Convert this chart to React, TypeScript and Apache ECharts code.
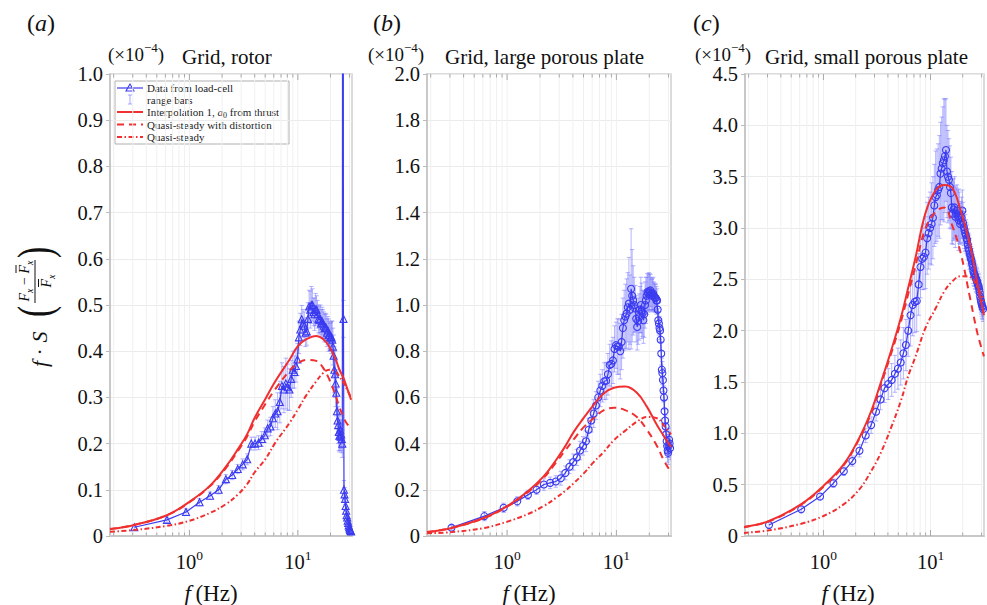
import React, { useEffect, useRef } from 'react';
import * as echarts from 'echarts';

const FONT = 'Liberation Serif, serif';
const BLUE = '#3b3bf0';
const BAR = 'rgba(110,110,255,0.5)';
const RED = '#f03030';

// Frequencies of the measured spectra (Hz)
const freqs = [
  0.31, 0.62, 0.93, 1.24, 1.55, 1.86, 2.17, 2.48, 2.79, 3.1,
  3.41, 3.72, 4.03, 4.34, 4.65, 4.96, 5.27, 5.58, 5.89, 6.2,
  6.51, 6.82, 7.13, 7.44, 7.75, 8.06, 8.37, 8.68, 8.99, 9.3,
  9.61, 9.92, 10.23, 10.54, 10.85, 11.16, 11.47, 11.78, 12.09, 12.4,
  12.71, 13.02, 13.33, 13.64, 13.95, 14.26, 14.57, 14.88, 15.19, 15.5,
  15.81, 16.12, 16.43, 16.74, 17.05, 17.36, 17.67, 17.98, 18.29, 18.6,
  18.91, 19.22, 19.53, 19.84, 20.15, 20.46, 20.77, 21.08, 21.39, 21.7,
  22.01, 22.32, 22.63, 22.94, 23.25, 23.56, 23.87, 24.18, 24.49, 24.8,
  25.11, 25.42, 25.73, 26.04, 26.35, 26.66, 26.97, 27.28, 27.59, 27.9,
  28.21, 28.52, 28.83, 29.14, 29.45, 29.76, 30.07, 30.38, 30.69, 31.0,
];

// (a) Grid, rotor
const dataA = [
  0.019, 0.035, 0.052, 0.073, 0.087, 0.1, 0.123, 0.132, 0.145, 0.155,
  0.166, 0.2, 0.2, 0.202, 0.21, 0.218, 0.233, 0.237, 0.255, 0.265,
  0.27, 0.29, 0.325, 0.317, 0.33, 0.322, 0.317, 0.34, 0.36, 0.355,
  0.368, 0.382, 0.43, 0.447, 0.469, 0.46, 0.455, 0.44, 0.443, 0.47,
  0.497, 0.49, 0.5, 0.5, 0.485, 0.48, 0.49, 0.49, 0.48, 0.47,
  0.467, 0.47, 0.46, 0.465, 0.46, 0.455, 0.45, 0.452, 0.45, 0.44,
  0.445, 0.435, 0.435, 0.43, 0.432, 0.43, 0.425, 0.41, 0.39, 0.36,
  0.35, 0.33, 0.31, 0.27, 0.25, 0.24, 0.225, 0.217, 0.23, 0.215,
  0.22, 0.21, 0.2, 3.0, 0.47, 0.1, 0.09, 0.08, 0.065, 0.055,
  0.045, 0.04, 0.033, 0.028, 0.023, 0.019, 0.016, 0.013, 0.011, 0.01,
];
const errA = [
  0.006, 0.006, 0.007, 0.008, 0.008, 0.009, 0.01, 0.01, 0.01, 0.012,
  0.012, 0.014, 0.014, 0.015, 0.016, 0.016, 0.018, 0.02, 0.025, 0.03,
  0.04, 0.045, 0.05, 0.05, 0.055, 0.05, 0.045, 0.04, 0.04, 0.035,
  0.035, 0.035, 0.035, 0.035, 0.03, 0.03, 0.03, 0.03, 0.03, 0.035,
  0.035, 0.04, 0.04, 0.035, 0.03, 0.035, 0.035, 0.03, 0.03, 0.03,
  0.03, 0.03, 0.03, 0.03, 0.03, 0.03, 0.03, 0.03, 0.03, 0.03,
  0.03, 0.035, 0.03, 0.03, 0.03, 0.035, 0.04, 0.04, 0.045, 0.05,
  0.05, 0.05, 0.05, 0.05, 0.04, 0.04, 0.04, 0.035, 0.03, 0.03,
  0.03, 0.03, 0.03, 0.1, 0.04, 0.02, 0.015, 0.012, 0.01, 0.01,
  0.008, 0.008, 0.006, 0.006, 0.005, 0.005, 0.005, 0.004, 0.004, 0.004,
];
const modelFreqA = [0.185, 0.31, 0.62, 1, 1.55, 2.17, 2.8, 3.4, 4, 5, 6.2, 8.4, 10, 12, 14.8, 17, 19.5, 22.6, 24, 26.7, 28, 31];
const interpA = [0.015, 0.024, 0.045, 0.074, 0.109, 0.15, 0.188, 0.22, 0.256, 0.296, 0.335, 0.382, 0.411, 0.426, 0.433, 0.427, 0.41, 0.379, 0.362, 0.339, 0.325, 0.295];
const distA = [0.015, 0.024, 0.045, 0.073, 0.108, 0.147, 0.184, 0.215, 0.248, 0.285, 0.318, 0.358, 0.374, 0.381, 0.379, 0.365, 0.339, 0.3, 0.28, 0.255, 0.245, 0.232];
const qsA = [0.009, 0.013, 0.022, 0.033, 0.05, 0.069, 0.09, 0.112, 0.138, 0.166, 0.202, 0.245, 0.274, 0.305, 0.335, 0.352, 0.36, 0.355, 0.346, 0.33, 0.32, 0.3];

// (b) Grid, large porous plate
const dataB = [
  0.036, 0.086, 0.122, 0.15, 0.178, 0.2, 0.223, 0.23, 0.236, 0.25,
  0.273, 0.3, 0.32, 0.34, 0.37, 0.39, 0.41, 0.46, 0.5, 0.53,
  0.565, 0.6, 0.63, 0.65, 0.67, 0.672, 0.7, 0.74, 0.745, 0.76,
  0.81, 0.826, 0.82, 0.82, 0.8, 0.84, 0.9, 0.934, 0.95, 0.963,
  0.99, 1.006, 0.98, 1.07, 1.04, 1.02, 1.0, 0.985, 0.94, 0.905,
  0.93, 0.948, 0.98, 1.0, 0.975, 0.964, 0.934, 0.96, 1.0, 1.02,
  1.04, 1.056, 1.05, 1.06, 1.055, 1.063, 1.05, 1.04, 1.045, 1.05,
  1.04, 1.035, 1.03, 1.03, 1.02, 1.02, 0.98, 0.934, 0.92, 0.9,
  0.89, 0.85, 0.79, 0.72, 0.705, 0.675, 0.63, 0.6, 0.54, 0.5,
  0.474, 0.44, 0.41, 0.39, 0.37, 0.36, 0.39, 0.417, 0.4, 0.38,
];
const errB = [
  0.01, 0.02, 0.02, 0.02, 0.02, 0.02, 0.025, 0.025, 0.025, 0.03,
  0.03, 0.03, 0.035, 0.035, 0.04, 0.04, 0.045, 0.05, 0.05, 0.06,
  0.06, 0.07, 0.07, 0.07, 0.08, 0.08, 0.09, 0.09, 0.1, 0.1,
  0.1, 0.1, 0.12, 0.12, 0.12, 0.12, 0.13, 0.13, 0.14, 0.15,
  0.15, 0.2, 0.15, 0.26, 0.2, 0.15, 0.12, 0.1, 0.1, 0.1,
  0.1, 0.1, 0.1, 0.12, 0.12, 0.1, 0.1, 0.1, 0.1, 0.1,
  0.08, 0.08, 0.08, 0.08, 0.08, 0.07, 0.07, 0.07, 0.07, 0.07,
  0.06, 0.06, 0.06, 0.06, 0.06, 0.05, 0.05, 0.05, 0.05, 0.05,
  0.05, 0.05, 0.05, 0.05, 0.05, 0.05, 0.05, 0.05, 0.05, 0.05,
  0.05, 0.05, 0.05, 0.05, 0.05, 0.05, 0.05, 0.05, 0.05, 0.05,
];
const modelFreqB = [0.185, 0.31, 0.62, 1, 1.55, 2.17, 2.8, 3.4, 4.1, 5, 6.2, 7.7, 9.5, 12, 15.4, 19, 23.5, 27, 31.6];
const interpB = [0.017, 0.035, 0.079, 0.129, 0.194, 0.259, 0.328, 0.388, 0.453, 0.51, 0.568, 0.618, 0.642, 0.647, 0.62, 0.56, 0.48, 0.435, 0.385];
const distB = [0.017, 0.035, 0.078, 0.127, 0.19, 0.252, 0.318, 0.37, 0.42, 0.47, 0.51, 0.545, 0.555, 0.545, 0.515, 0.46, 0.39, 0.33, 0.275];
const qsB = [0.012, 0.017, 0.035, 0.062, 0.095, 0.13, 0.165, 0.195, 0.23, 0.27, 0.32, 0.365, 0.415, 0.455, 0.495, 0.515, 0.51, 0.48, 0.44];

// (c) Grid, small porous plate
const dataC = [
  0.107, 0.26, 0.384, 0.514, 0.63, 0.73, 0.83, 0.98, 1.08, 1.21,
  1.33, 1.44, 1.48, 1.52, 1.58, 1.63, 1.69, 1.78, 1.86, 2.0,
  2.15, 2.25, 2.28, 2.29, 2.45, 2.62, 2.7, 2.72, 2.76, 2.9,
  2.95, 3.0, 3.04, 3.1, 3.22, 3.3, 3.32, 3.37, 3.4, 3.53,
  3.58, 3.63, 3.66, 3.7, 3.76, 3.55, 3.5, 3.47, 3.4, 3.34,
  3.2, 3.14, 3.18, 3.2, 3.11, 3.14, 3.17, 3.12, 3.08, 3.1,
  3.04, 3.06, 3.1, 3.17, 3.05, 3.01, 2.98, 2.95, 2.93, 2.9,
  2.88, 2.84, 2.8, 2.78, 2.75, 2.72, 2.7, 2.68, 2.65, 2.62,
  2.58, 2.56, 2.55, 2.53, 2.52, 2.5, 2.49, 2.48, 2.46, 2.44,
  2.43, 2.4, 2.37, 2.33, 2.3, 2.28, 2.26, 2.24, 2.23, 2.21,
];
const errC = [
  0.03, 0.03, 0.03, 0.04, 0.04, 0.05, 0.06, 0.07, 0.08, 0.09,
  0.1, 0.14, 0.15, 0.16, 0.18, 0.2, 0.22, 0.25, 0.25, 0.25,
  0.3, 0.3, 0.3, 0.3, 0.3, 0.3, 0.3, 0.32, 0.35, 0.35,
  0.35, 0.35, 0.4, 0.4, 0.4, 0.45, 0.45, 0.45, 0.5, 0.5,
  0.5, 0.55, 0.6, 0.55, 0.5, 0.45, 0.45, 0.4, 0.4, 0.35,
  0.35, 0.3, 0.3, 0.3, 0.3, 0.25, 0.25, 0.25, 0.3, 0.25,
  0.2, 0.2, 0.2, 0.2, 0.2, 0.18, 0.18, 0.18, 0.15, 0.15,
  0.15, 0.15, 0.15, 0.15, 0.15, 0.12, 0.12, 0.12, 0.12, 0.12,
  0.12, 0.12, 0.12, 0.12, 0.12, 0.12, 0.12, 0.12, 0.12, 0.12,
  0.12, 0.12, 0.12, 0.12, 0.12, 0.12, 0.12, 0.12, 0.12, 0.12,
];
const modelFreqC = [0.18, 0.31, 0.62, 1, 1.55, 2.17, 2.8, 3.4, 4.3, 5.3, 6.2, 7.2, 9, 11.2, 13.4, 16, 19.1, 23.6, 27.5, 31.6];
const interpC = [0.088, 0.146, 0.31, 0.488, 0.7, 0.96, 1.22, 1.48, 1.81, 2.13, 2.42, 2.7, 3.15, 3.37, 3.42, 3.39, 3.17, 2.82, 2.45, 2.15];
const distC = [0.086, 0.143, 0.305, 0.48, 0.69, 0.95, 1.2, 1.46, 1.78, 2.09, 2.36, 2.62, 3.0, 3.16, 3.2, 3.02, 2.76, 2.3, 1.97, 1.75];
const qsC = [0.03, 0.055, 0.12, 0.195, 0.31, 0.456, 0.635, 0.8, 1.06, 1.32, 1.56, 1.74, 2.03, 2.22, 2.38, 2.48, 2.53, 2.52, 2.42, 2.29];

// Log-axis grid line / tick positions
const gridFreqs = [0.2, 0.3, 0.4, 0.5, 0.6, 0.7, 0.8, 0.9, 1, 2, 3, 4, 5, 6, 7, 8, 9, 10, 20, 30];

const panelTitles = ['Grid, rotor', 'Grid, large porous plate', 'Grid, small porous plate'];
const panelLetters = ['a', 'b', 'c'];
const yMaxes = [1.0, 2.0, 4.5];
const ySteps = [0.1, 0.2, 0.5];

const panels = [
  { data: dataA, err: errA, mf: modelFreqA, interp: interpA, dist: distA, qs: qsA, symbol: 'triangle' },
  { data: dataB, err: errB, mf: modelFreqB, interp: interpB, dist: distB, qs: qsB, symbol: 'circle' },
  { data: dataC, err: errC, mf: modelFreqC, interp: interpC, dist: distC, qs: qsC, symbol: 'circle' },
];

const grids = [
  { left: 110, top: 74, width: 242, height: 462 },
  { left: 427, top: 74, width: 244, height: 462 },
  { left: 745, top: 74, width: 244, height: 462 },
];

const isPow10 = (v: number) => {
  const e = Math.log10(v);
  return Math.abs(e - Math.round(e)) < 1e-6;
};

function gridRender(params: any, api: any) {
  const cs = params.coordSys;
  const f = api.value(0);
  const px = api.coord([f, 0])[0];
  const tl = isPow10(f) ? 6 : 3.5;
  const tick = { stroke: '#a8a8a8', lineWidth: 1 };
  return {
    type: 'group',
    children: [
      { type: 'line', shape: { x1: px, y1: cs.y, x2: px, y2: cs.y + cs.height }, style: { stroke: '#f0f0f0', lineWidth: 1 } },
      { type: 'line', shape: { x1: px, y1: cs.y + cs.height, x2: px, y2: cs.y + cs.height - tl }, style: tick },
      { type: 'line', shape: { x1: px, y1: cs.y, x2: px, y2: cs.y + tl }, style: tick },
    ],
  };
}

function errRender(params: any, api: any) {
  const x = api.value(0);
  const p1 = api.coord([x, api.value(1)]);
  const p2 = api.coord([x, api.value(2)]);
  const c = 2.2;
  const style = { stroke: BAR, lineWidth: 1 };
  return {
    type: 'group',
    children: [
      { type: 'line', shape: { x1: p1[0], y1: p1[1], x2: p2[0], y2: p2[1] }, style },
      { type: 'line', shape: { x1: p1[0] - c, y1: p1[1], x2: p1[0] + c, y2: p1[1] }, style },
      { type: 'line', shape: { x1: p2[0] - c, y1: p2[1], x2: p2[0] + c, y2: p2[1] }, style },
    ],
  };
}

function buildOption() {
  const xAxis: any[] = [];
  const yAxis: any[] = [];
  const series: any[] = [];
  panels.forEach((p, i) => {
    xAxis.push({
      type: 'log', logBase: 10, gridIndex: i, min: 0.185, max: 31.6,
      axisLine: { show: true, onZero: false, lineStyle: { color: '#c8c8c8', width: 2 } },
      axisTick: { show: false },
      splitLine: { show: false },
      minorTick: { show: false },
      axisLabel: {
        margin: 12,
        formatter: (v: number) => (isPow10(v) ? `{b|10}{s|${Math.round(Math.log10(v))}}` : ''),
        rich: {
          b: { fontFamily: FONT, fontSize: 20.5, color: '#111', lineHeight: 24, verticalAlign: 'bottom' },
          s: { fontFamily: FONT, fontSize: 13.5, color: '#111', lineHeight: 24, verticalAlign: 'top' },
        },
      },
    });
    yAxis.push({
      type: 'value', gridIndex: i, min: 0, max: yMaxes[i], interval: ySteps[i],
      axisLine: { show: true, lineStyle: { color: '#c8c8c8', width: 2 } },
      axisTick: { show: true, length: 4, lineStyle: { color: '#bbbbbb' } },
      splitLine: { show: true, lineStyle: { color: '#ebebeb', width: 1 } },
      axisLabel: {
        margin: 7, fontFamily: FONT, fontSize: 20.5, color: '#111',
        formatter: (v: number) => (Math.abs(v) < 1e-9 ? '0' : v.toFixed(1)),
      },
    });
    series.push({
      type: 'custom', xAxisIndex: i, yAxisIndex: i, silent: true, z: 1,
      renderItem: gridRender, data: gridFreqs.map((f) => [f, 0]),
    });
    series.push({
      type: 'custom', xAxisIndex: i, yAxisIndex: i, silent: true, z: 2, clip: true,
      encode: { x: 0, y: [1, 2] },
      renderItem: errRender,
      data: freqs.map((f, k) => [f, p.data[k] - p.err[k], p.data[k] + p.err[k]]),
    });
    series.push({
      type: 'line', xAxisIndex: i, yAxisIndex: i, z: 3, clip: true,
      data: freqs.map((f, k) => [f, p.data[k]]),
      symbol: p.symbol, symbolSize: 7, showAllSymbol: true,
      lineStyle: { color: BLUE, width: 1.2 },
      itemStyle: { color: 'rgba(0,0,0,0)', borderColor: BLUE, borderWidth: 1.1 },
    });
    const curves: [number[], any][] = [
      [p.interp, 'solid'],
      [p.dist, [7, 5]],
      [p.qs, [5, 2.5, 1.5, 2.5]],
    ];
    curves.forEach(([vals, dash]) => {
      series.push({
        type: 'line', xAxisIndex: i, yAxisIndex: i, z: 4, clip: true, smooth: 0.4,
        data: p.mf.map((f, k) => [f, vals[k]]),
        symbol: 'none',
        lineStyle: { color: RED, width: 2, type: dash },
      });
    });
  });

  const txt = (x: number, y: number, text: string, size: number, rich: any = {}, align = 'left') => ({
    type: 'text', x, y, silent: true,
    style: { text, fontFamily: FONT, fontSize: size, fill: '#111', align, verticalAlign: 'middle', rich },
  });
  const richSup = {
    n: { fontFamily: FONT, fontSize: 19, fill: '#111', lineHeight: 23, verticalAlign: 'bottom' },
    s: { fontFamily: FONT, fontSize: 13, fill: '#111', lineHeight: 23, verticalAlign: 'top' },
  };
  const richItal = (size: number) => ({
    i: { fontFamily: FONT, fontSize: size, fontStyle: 'italic', fill: '#111' },
  });

  const letterX = [27, 373, 693];
  const scaleX = [108, 368, 695];
  const titleX = [182, 445, 765];
  const fhzX = [211, 529, 848];

  const graphic: any[] = [];
  panels.forEach((_, i) => {
    graphic.push(txt(letterX[i], 23, `({i|${panelLetters[i]}})`, 24, richItal(24)));
    graphic.push(txt(scaleX[i], 52, '{n|(×10}{s|−4}{n|)}', 19, richSup));
    graphic.push(txt(titleX[i], 57, panelTitles[i], 21));
    graphic.push(txt(fhzX[i], 593, '{i|f}\u2009(Hz)', 23, richItal(23), 'center'));
  });

  // y-axis name, rotated
  const ri = { i: { fontFamily: FONT, fontStyle: 'italic', fontSize: 14, fill: '#111' }, sub: { fontFamily: FONT, fontStyle: 'italic', fontSize: 10, fill: '#111', verticalAlign: 'bottom', lineHeight: 20 } };
  graphic.push({
    type: 'group', x: 50, y: 367, rotation: Math.PI / 2, silent: true,
    children: [
      { type: 'text', x: 0, y: 0, style: { text: '{i|f} · {i|S}', fontFamily: FONT, fontSize: 22, fill: '#111', verticalAlign: 'bottom', rich: { i: { fontFamily: FONT, fontStyle: 'italic', fontSize: 22, fill: '#111' } } } },
      { type: 'text', x: 50, y: -15, scaleX: 0.7, style: { text: '(', fontFamily: FONT, fontSize: 48, fill: '#111', verticalAlign: 'middle' } },
      { type: 'text', x: 109, y: -15, scaleX: 0.7, style: { text: ')', fontFamily: FONT, fontSize: 48, fill: '#111', verticalAlign: 'middle' } },
      { type: 'line', shape: { x1: 64, y1: -15, x2: 107, y2: -15 }, style: { stroke: '#111', lineWidth: 1 } },
      { type: 'text', x: 86, y: -26, style: { text: '{i|F}{sub|x}{n| − }{i|F}{sub|x}', fontFamily: FONT, fontSize: 14, fill: '#111', align: 'center', verticalAlign: 'middle', rich: { ...ri, n: { fontFamily: FONT, fontSize: 14, fill: '#111' } } } },
      { type: 'line', shape: { x1: 94, y1: -34, x2: 102, y2: -34 }, style: { stroke: '#111', lineWidth: 1 } },
      { type: 'text', x: 86, y: -4, style: { text: '{i|F}{sub|x}', fontFamily: FONT, fontSize: 14, fill: '#111', align: 'center', verticalAlign: 'middle', rich: ri } },
      { type: 'line', shape: { x1: 80, y1: -11.5, x2: 88, y2: -11.5 }, style: { stroke: '#111', lineWidth: 1 } },
    ],
  });

  // legend in panel (a)
  const lx1 = 117, lx2 = 143, tx = 147;
  const rows = [88, 99.5, 112, 124.5, 137];
  const lt = (y: number, text: string, rich: any = {}) => ({
    type: 'text', x: tx, y, silent: true,
    style: { text, fontFamily: FONT, fontSize: 11, fill: '#222', verticalAlign: 'middle', rich },
  });
  graphic.push({
    type: 'group', silent: true, z: 10,
    children: [
      { type: 'rect', shape: { x: 115, y: 81, width: 174, height: 63 }, style: { fill: '#fff', stroke: '#b0b0b0', lineWidth: 1 } },
      { type: 'line', shape: { x1: lx1, y1: rows[0], x2: lx2, y2: rows[0] }, style: { stroke: BLUE, lineWidth: 1.2 } },
      { type: 'polygon', shape: { points: [[130, rows[0] - 4], [126, rows[0] + 3], [134, rows[0] + 3]] }, style: { fill: 'none', stroke: BLUE, lineWidth: 1.1 } },
      { type: 'line', shape: { x1: 130, y1: rows[1] - 4.5, x2: 130, y2: rows[1] + 4.5 }, style: { stroke: BAR, lineWidth: 1.2 } },
      { type: 'line', shape: { x1: 128, y1: rows[1] - 4.5, x2: 132, y2: rows[1] - 4.5 }, style: { stroke: BAR, lineWidth: 1.2 } },
      { type: 'line', shape: { x1: 128, y1: rows[1] + 4.5, x2: 132, y2: rows[1] + 4.5 }, style: { stroke: BAR, lineWidth: 1.2 } },
      { type: 'line', shape: { x1: lx1, y1: rows[2], x2: lx2, y2: rows[2] }, style: { stroke: RED, lineWidth: 2 } },
      { type: 'line', shape: { x1: lx1, y1: rows[3], x2: lx2, y2: rows[3] }, style: { stroke: RED, lineWidth: 2, lineDash: [7, 5] } },
      { type: 'line', shape: { x1: lx1, y1: rows[4], x2: lx2, y2: rows[4] }, style: { stroke: RED, lineWidth: 2, lineDash: [5, 2.5, 1.5, 2.5] } },
      lt(rows[0], 'Data from load-cell'),
      lt(rows[1], 'range bars'),
      lt(rows[2], 'Interpolation 1, {i|a}{s|0} from thrust', {
        i: { fontFamily: FONT, fontSize: 11, fontStyle: 'italic', fill: '#222' },
        s: { fontFamily: FONT, fontSize: 8, fill: '#222', verticalAlign: 'bottom', lineHeight: 14 },
      }),
      lt(rows[3], 'Quasi-steady with distortion'),
      lt(rows[4], 'Quasi-steady'),
    ],
  });

  return {
    animation: false,
    backgroundColor: '#ffffff',
    textStyle: { fontFamily: FONT },
    grid: grids.map((g) => ({ ...g, show: true, borderColor: '#d0d0d0', borderWidth: 1.5, backgroundColor: 'transparent', containLabel: false })),
    xAxis,
    yAxis,
    series,
    graphic,
  };
}

export default function App() {
  const ref = useRef<HTMLDivElement>(null);
  useEffect(() => {
    if (!ref.current) return;
    const chart = echarts.init(ref.current, undefined, { renderer: 'svg' });
    chart.setOption(buildOption() as any);
    return () => chart.dispose();
  }, []);
  return <div ref={ref} style={{ position: 'absolute', left: 0, top: 0, width: 987, height: 605, background: '#fff' }} />;
}
